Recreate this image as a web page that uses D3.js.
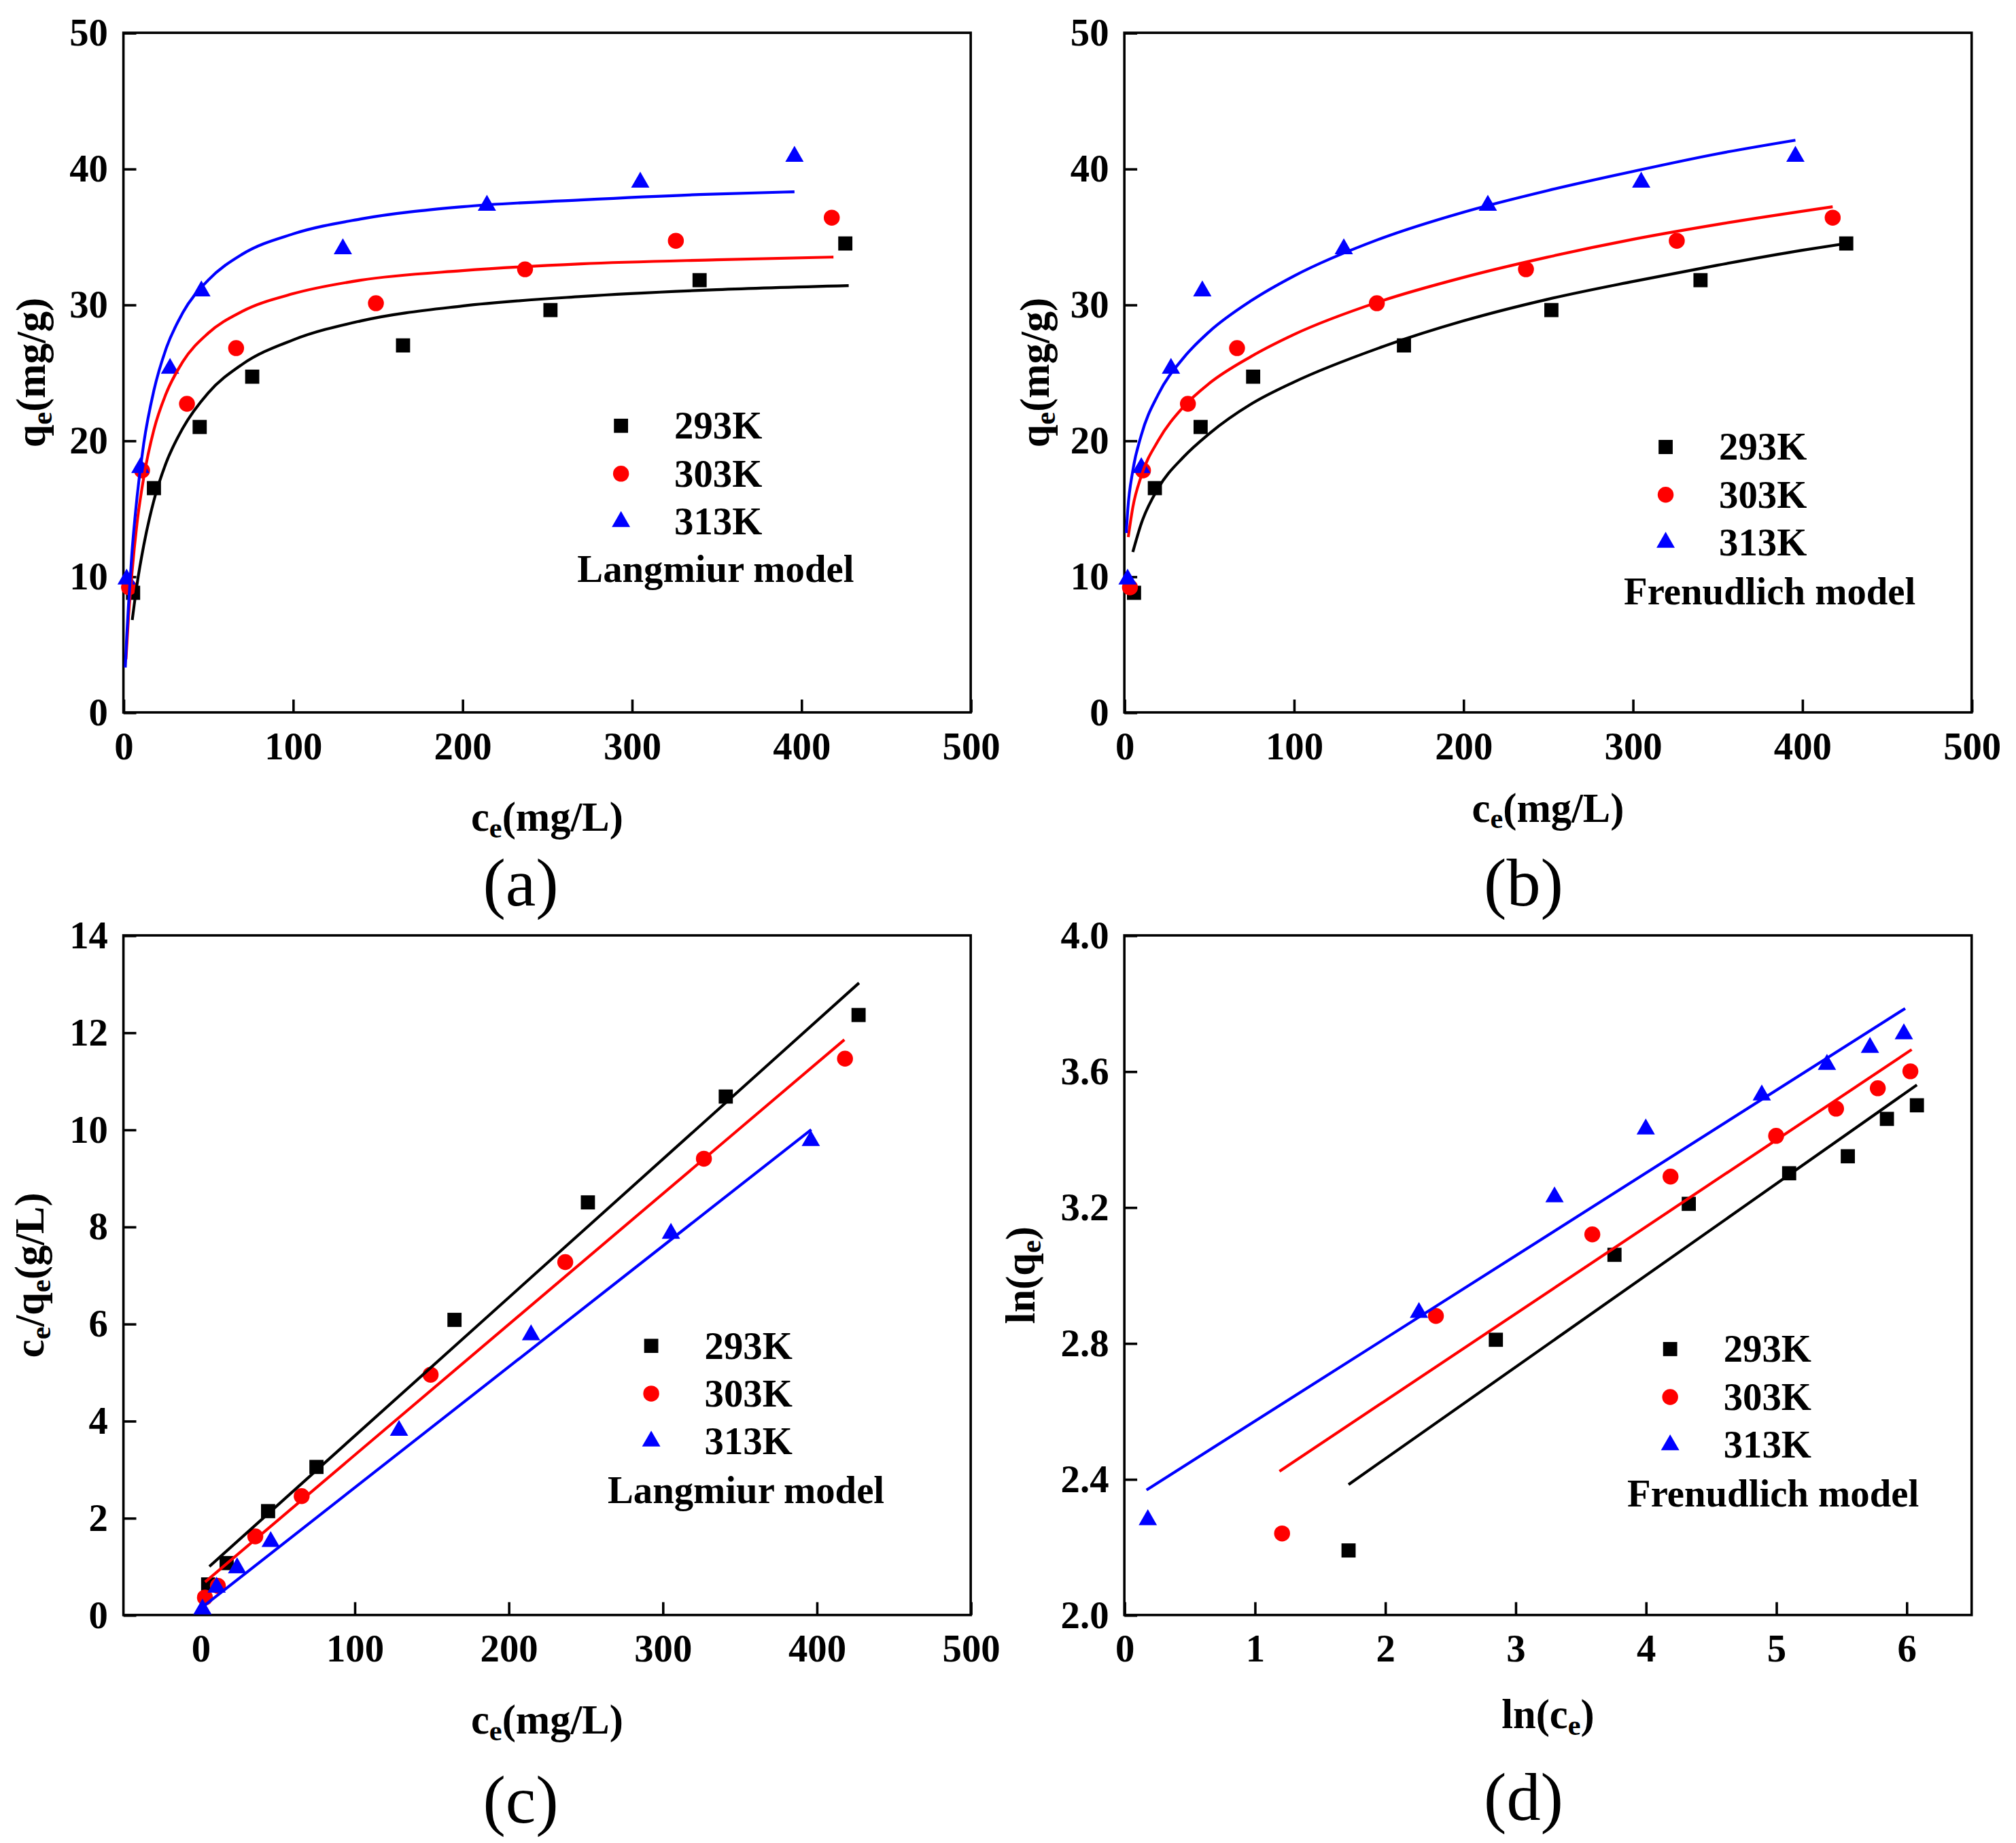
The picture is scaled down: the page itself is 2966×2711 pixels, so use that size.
<!DOCTYPE html>
<html lang="en">
<head>
    <meta charset="UTF-8">
    <title>adsorption isotherms</title>
    <script src="https://cdn.jsdelivr.net/npm/d3@7"></script>
    <style>
        body{
            margin: 0;
            background: #ffffff;
        }
        svg{
            display: block;
        }
        text{
            font-family: "Liberation Serif", "Times New Roman", serif;
        }
    </style>
</head>
<body>

<svg id="fig" width="2966" height="2711" viewBox="0 0 1568 1433"></svg>

<script>
    // series names
    let temps = ["293K", "303K", "313K"]

    // (a),(b) experimental points: ce (mg/L) and qe (mg/g)
    let ce_293 = [5.7, 18, 45, 76, 165, 252, 340, 426]
    let qe_293 = [8.8, 16.5, 21.0, 24.7, 27.0, 29.6, 31.8, 34.5]
    let ce_303 = [3.3, 11, 37.5, 66.5, 149, 237, 326, 418]
    let qe_303 = [9.2, 17.8, 22.7, 26.8, 30.1, 32.6, 34.7, 36.4]
    let ce_313 = [1.9, 10, 27.5, 46, 129.5, 214.5, 305, 396]
    let qe_313 = [9.8, 18.0, 25.3, 31.0, 34.1, 37.3, 39.0, 40.9]

    // (a) Langmuir fit curves
    let langA_c293 = [5.2, 8, 12, 18, 25, 35, 50, 70, 100, 140, 200, 270, 350, 428]
    let langA_q293 = [6.8, 9.4, 12.3, 15.6, 18.3, 20.9, 23.5, 25.6, 27.4, 28.8, 29.9, 30.6, 31.1, 31.4]
    let langA_c303 = [1.5, 3, 5, 8, 12, 18, 25, 35, 50, 70, 100, 140, 200, 270, 350, 419]
    let langA_q303 = [3.9, 7.0, 10.2, 13.9, 17.3, 20.8, 23.4, 25.8, 27.9, 29.5, 30.8, 31.8, 32.5, 33.0, 33.3, 33.5]
    let langA_c313 = [1.1, 2, 3, 5, 8, 12, 18, 25, 35, 50, 70, 100, 140, 200, 270, 340, 396]
    let langA_q313 = [3.3, 5.7, 7.9, 11.7, 15.8, 19.8, 23.7, 26.7, 29.4, 31.8, 33.7, 35.2, 36.3, 37.2, 37.7, 38.1, 38.3]

    // (b) Freundlich fit curves
    let frB_c293 = [5, 10, 20, 35, 50, 75, 100, 150, 200, 250, 300, 350, 400, 426]
    let frB_q293 = [11.8, 13.9, 16.5, 18.8, 20.5, 22.7, 24.3, 26.8, 28.8, 30.4, 31.7, 32.9, 34.0, 34.5]
    let frB_c303 = [2.3, 5, 10, 20, 35, 50, 75, 100, 150, 200, 250, 300, 350, 418]
    let frB_q303 = [12.9, 15.1, 17.4, 20.0, 22.5, 24.2, 26.2, 27.8, 30.2, 32.0, 33.5, 34.8, 35.9, 37.2]
    let frB_c313 = [1.1, 2, 5, 10, 20, 35, 50, 75, 100, 150, 200, 250, 300, 350, 396]
    let frB_q313 = [13.2, 14.9, 17.8, 20.4, 23.4, 26.1, 28.0, 30.3, 32.1, 34.8, 36.8, 38.4, 39.8, 41.1, 42.1]

    // (c) linear Langmuir: ce and ce/qe (g/L)
    let cC_293 = [5.0, 17, 43.9, 75.3, 164.9, 251.5, 341, 427.2]
    let rC_293 = [0.63, 1.07, 2.14, 3.05, 6.08, 8.50, 10.68, 12.36]
    let cC_303 = [2.9, 11.3, 35.6, 65.7, 149.4, 236.8, 326.8, 418.4]
    let rC_303 = [0.36, 0.60, 1.62, 2.45, 4.95, 7.27, 9.40, 11.46]
    let cC_313 = [1.3, 10.5, 23.8, 45.6, 128.9, 214.6, 305.4, 396.2]
    let rC_313 = [0.12, 0.57, 0.97, 1.51, 3.80, 5.77, 7.86, 9.77]
    // (c) fit lines, end points
    let lineC_x293 = [5.8, 427.5]
    let lineC_y293 = [1.00, 13.02]
    let lineC_x303 = [3.0, 418]
    let lineC_y303 = [0.68, 11.85]
    let lineC_x313 = [1.2, 396.5]
    let lineC_y313 = [0.16, 10.0]

    // (d) linear Freundlich: ln(ce), ln(qe)
    let lnc_293 = [1.72, 2.85, 3.76, 4.33, 5.10, 5.55, 5.85, 6.08]
    let lnq_293 = [2.19, 2.81, 3.06, 3.21, 3.30, 3.35, 3.46, 3.50]
    let lnc_303 = [1.21, 2.39, 3.59, 4.19, 5.00, 5.46, 5.78, 6.03]
    let lnq_303 = [2.24, 2.88, 3.12, 3.29, 3.41, 3.49, 3.55, 3.60]
    let lnc_313 = [0.18, 2.26, 3.30, 4.00, 4.89, 5.39, 5.72, 5.98]
    let lnq_313 = [2.28, 2.89, 3.23, 3.43, 3.53, 3.62, 3.67, 3.71]
    // (d) fit lines, end points
    let lineD_x293 = [1.72, 6.08]
    let lineD_y293 = [2.384, 3.560]
    let lineD_x303 = [1.19, 6.04]
    let lineD_y303 = [2.423, 3.664]
    let lineD_x313 = [0.17, 5.99]
    let lineD_y313 = [2.368, 3.785]

    // tick values
    let ticksQ = [0, 10, 20, 30, 40, 50]
    let ticksCe = [0, 100, 200, 300, 400, 500]
    let ticksRatio = [0, 2, 4, 6, 8, 10, 12, 14]
    let ticksLnC = [0, 1, 2, 3, 4, 5, 6]
    let ticksLnQ = [2.0, 2.4, 2.8, 3.2, 3.6, 4.0]

    // marker / colour styles
    let colors = ["#000000", "#ff0000", "#0000ff"]
    let shapes = [d3.symbolSquare, d3.symbolCircle, d3.symbolTriangle]
    let sizes = [121, 121, 88]

    let svg = d3.select("#fig")

    // text with subscript parts: [string, isSub]
    function richText(g, parts, size, anchor)
    {
        let t = g.append("text")
            .attr("font-size", size)
            .attr("font-weight", "bold")
            .attr("text-anchor", anchor)
            .attr("fill", "#000")
        let shift = 0
        parts.forEach(function (p) {
            let sp = t.append("tspan").text(p[0])
            if (p[1]) {
                sp.attr("font-size", size * 0.7).attr("dy", 5 - shift)
                shift = 5
            } else {
                sp.attr("dy", -shift)
                shift = 0
            }
        })
        return t
    }

    function drawPanel(p)
    {
        let g = svg.append("g")
        let x = d3.scaleLinear().domain(p.xDomain).range([p.left, p.right])
        let y = d3.scaleLinear().domain(p.yDomain).range([p.bottom, p.top])

        let xAxis = g.append("g")
            .attr("transform", "translate(0," + p.bottom + ")")
            .call(d3.axisBottom(x).tickValues(p.xTicks).tickFormat(p.xFormat)
                .tickSizeInner(-10).tickSizeOuter(0).tickPadding(15))
        let yAxis = g.append("g")
            .attr("transform", "translate(" + p.left + ",0)")
            .call(d3.axisLeft(y).tickValues(p.yTicks).tickFormat(p.yFormat)
                .tickSizeInner(-10).tickSizeOuter(0).tickPadding(12))

        ;[xAxis, yAxis].forEach(function (a) {
            a.select(".domain").remove()
            a.selectAll(".tick line").attr("stroke", "#000").attr("stroke-width", 1.9)
            a.selectAll(".tick text")
                .attr("fill", "#000")
                .attr("font-size", 30)
                .attr("font-weight", "bold")
                .attr("font-family", "'Liberation Serif', 'Times New Roman', serif")
        })

        // box frame
        g.append("rect")
            .attr("x", p.left).attr("y", p.top)
            .attr("width", p.right - p.left).attr("height", p.bottom - p.top)
            .attr("fill", "none").attr("stroke", "#000").attr("stroke-width", 1.9)

        // points then fits
        p.series.forEach(function (s, i) {
            g.append("g").selectAll("path")
                .data(d3.zip(s.x, s.y))
                .join("path")
                .attr("transform", d => "translate(" + x(d[0]) + "," + y(d[1]) + ")")
                .attr("d", d3.symbol(shapes[i], sizes[i]))
                .attr("fill", colors[i])
        })
        p.series.forEach(function (s, i) {
            let line = d3.line().x(d => x(d[0])).y(d => y(d[1]))
            if (s.fx.length > 2) line.curve(d3.curveMonotoneX)
            g.append("path")
                .datum(d3.zip(s.fx, s.fy))
                .attr("d", line)
                .attr("fill", "none")
                .attr("stroke", colors[i])
                .attr("stroke-width", 2.2)
                .attr("stroke-linejoin", "round")
        })

        // legend
        temps.forEach(function (name, i) {
            let ly = p.legY + i * p.legStep
            g.append("path")
                .attr("transform", "translate(" + p.legX + "," + ly + ")")
                .attr("d", d3.symbol(shapes[i], sizes[i]))
                .attr("fill", colors[i])
            g.append("text")
                .attr("x", p.legX + 41.5).attr("y", ly + 10)
                .attr("font-size", 30).attr("font-weight", "bold")
                .text(name)
        })
        g.append("text")
            .attr("x", p.modelX).attr("y", p.modelY)
            .attr("font-size", 30).attr("font-weight", "bold")
            .text(p.model)

        // axis titles
        let cx = (p.left + p.right) / 2
        let cy = (p.top + p.bottom) / 2
        richText(g, p.xTitle, 32, "middle")
            .attr("transform", "translate(" + cx + "," + p.xTitleY + ")")
        richText(g, p.yTitle, 32, "middle")
            .attr("transform", "translate(" + (p.left + p.yTitleDx) + "," + cy + ") rotate(-90)")

        // panel tag
        g.append("text")
            .attr("x", p.tagX).attr("y", p.tagY)
            .attr("font-size", 53)
            .attr("text-anchor", "middle")
            .text(p.tag)
    }

    let intFmt = d3.format("d")
    let oneFmt = d3.format(".1f")
    let ceTitle = [["c", false], ["e", true], ["(mg/L)", false]]
    let qeTitle = [["q", false], ["e", true], ["(mg/g)", false]]

    let top1 = 25.4, bot1 = 553.9, top2 = 727.3, bot2 = 1255.8
    let leftA = 96, rightA = 755, leftB = 874.5, rightB = 1533.5

    drawPanel({
        left: leftA, right: rightA, top: top1, bottom: bot1,
        xDomain: [0, 500], yDomain: [0, 50], xTicks: ticksCe, yTicks: ticksQ,
        xFormat: intFmt, yFormat: intFmt,
        series: [
            {x: ce_293, y: qe_293, fx: langA_c293, fy: langA_q293},
            {x: ce_303, y: qe_303, fx: langA_c303, fy: langA_q303},
            {x: ce_313, y: qe_313, fx: langA_c313, fy: langA_q313}
        ],
        legX: 483, legY: 331, legStep: 37.3,
        model: "Langmiur model", modelX: 449, modelY: 452.5,
        xTitle: ceTitle, xTitleY: 646, yTitle: qeTitle, yTitleDx: -61,
        tag: "(a)", tagX: 405, tagY: 704
    })

    drawPanel({
        left: leftB, right: rightB, top: top1, bottom: bot1,
        xDomain: [0, 500], yDomain: [0, 50], xTicks: ticksCe, yTicks: ticksQ,
        xFormat: intFmt, yFormat: intFmt,
        series: [
            {x: ce_293, y: qe_293, fx: frB_c293, fy: frB_q293},
            {x: ce_303, y: qe_303, fx: frB_c303, fy: frB_q303},
            {x: ce_313, y: qe_313, fx: frB_c313, fy: frB_q313}
        ],
        legX: 1295.5, legY: 347.5, legStep: 37.1,
        model: "Frenudlich model", modelX: 1263, modelY: 470,
        xTitle: ceTitle, xTitleY: 639, yTitle: qeTitle, yTitleDx: -59,
        tag: "(b)", tagX: 1185, tagY: 704
    })

    drawPanel({
        left: leftA, right: rightA, top: top2, bottom: bot2,
        xDomain: [-50, 500], yDomain: [0, 14], xTicks: ticksCe, yTicks: ticksRatio,
        xFormat: intFmt, yFormat: intFmt,
        series: [
            {x: cC_293, y: rC_293, fx: lineC_x293, fy: lineC_y293},
            {x: cC_303, y: rC_303, fx: lineC_x303, fy: lineC_y303},
            {x: cC_313, y: rC_313, fx: lineC_x313, fy: lineC_y313}
        ],
        legX: 506.5, legY: 1046.5, legStep: 37.1,
        model: "Langmiur model", modelX: 472.6, modelY: 1169,
        xTitle: ceTitle, xTitleY: 1348,
        yTitle: [["c", false], ["e", true], ["/q", false], ["e", true], ["(g/L)", false]], yTitleDx: -62,
        tag: "(c)", tagX: 405, tagY: 1417
    })

    drawPanel({
        left: leftB, right: rightB, top: top2, bottom: bot2,
        xDomain: [0, 6.5], yDomain: [2, 4], xTicks: ticksLnC, yTicks: ticksLnQ,
        xFormat: intFmt, yFormat: oneFmt,
        series: [
            {x: lnc_293, y: lnq_293, fx: lineD_x293, fy: lineD_y293},
            {x: lnc_303, y: lnq_303, fx: lineD_x303, fy: lineD_y303},
            {x: lnc_313, y: lnq_313, fx: lineD_x313, fy: lineD_y313}
        ],
        legX: 1299, legY: 1049, legStep: 37.3,
        model: "Frenudlich model", modelX: 1265.6, modelY: 1171.4,
        xTitle: [["ln(c", false], ["e", true], [")", false]], xTitleY: 1344,
        yTitle: [["ln(q", false], ["e", true], [")", false]], yTitleDx: -70,
        tag: "(d)", tagX: 1185, tagY: 1415
    })
</script>

</body>
</html>
